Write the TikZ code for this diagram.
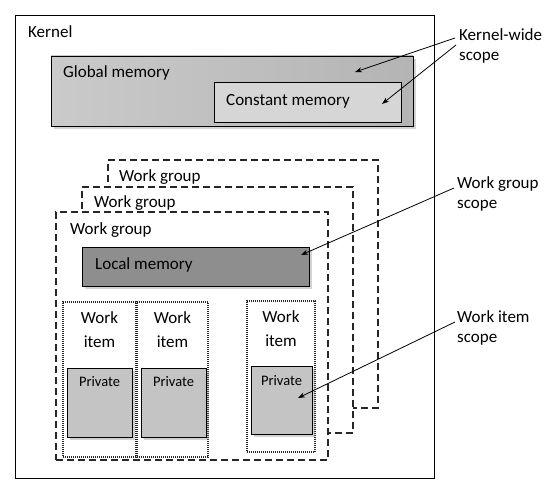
\documentclass[tikz,border=0pt]{standalone}
\usepackage{fontspec}
\setmainfont{Carlito}
\usetikzlibrary{arrows.meta,shadows}
\definecolor{globalc}{HTML}{CACACA}
\definecolor{globalr}{HTML}{B4B4B4}
\definecolor{constc}{HTML}{D6D6D6}
\definecolor{localc}{HTML}{8E8E8E}
\definecolor{privc}{HTML}{C4C4C4}
\tikzset{
  box/.style={draw=black, line width=0.9pt, anchor=north west, inner sep=0pt, outer sep=0pt},
  memshadow/.style={drop shadow={shadow xshift=3pt, shadow yshift=-3pt, opacity=0.35, fill=gray}},
  wgbox/.style={draw=black!85, line width=1.1pt, dash pattern=on 7pt off 4pt, fill=white, anchor=north west, inner sep=0pt, outer sep=0pt},
  wibox/.style={draw=black!85, line width=1.1pt, dash pattern=on 1pt off 1pt, anchor=north west, inner sep=0pt, outer sep=0pt},
  lbl/.style={font=\fontsize{17}{21}\selectfont, inner sep=0pt, anchor=west},
  scopelbl/.style={font=\fontsize{17}{20.5}\selectfont, inner sep=0pt, anchor=north west, align=left},
  itemlbl/.style={font=\fontsize{17}{24}\selectfont, inner sep=0pt, align=center},
  privlbl/.style={font=\fontsize{14.5}{16}\selectfont, inner sep=0pt},
  arr/.style={-{Stealth[length=7pt,width=5pt]}, line width=0.8pt, black}
}
\begin{document}
\begin{tikzpicture}[x=1pt,y=-1pt]
\useasboundingbox (0,0) rectangle (552,495);
% Kernel
\node[box, minimum width=419pt, minimum height=463pt] (kernel) at (15,15) {};
\node[lbl] (kernellbl) at (28,32) {Kernel};
% Global memory
\node[box, minimum width=362pt, minimum height=70pt, left color=globalc, right color=globalr, memshadow] (global) at (51,56) {};
\node[lbl] (globallbl) at (63,73) {Global memory};
\node[box, minimum width=187pt, minimum height=40pt, fill=constc] (const) at (214,82) {};
\node[lbl] (constlbl) at (226,101) {Constant memory};
% Work groups
\node[wgbox, minimum width=270pt, minimum height=248pt] (wg3) at (108,160) {};
\node[lbl] (wg3lbl) at (119,177) {Work group};
\node[wgbox, minimum width=271pt, minimum height=246pt] (wg2) at (82,187) {};
\node[lbl] (wg2lbl) at (94,203) {Work group};
\node[wgbox, minimum width=272pt, minimum height=248pt] (wg1) at (56,212) {};
\node[lbl] (wg1lbl) at (70,230) {Work group};
% Local memory
\node[box, minimum width=227pt, minimum height=39pt, fill=localc, memshadow] (local) at (82,247) {};
\node[lbl] (locallbl) at (95,265) {Local memory};
% Work items
\node[wibox, minimum width=73pt, minimum height=155pt] (wi1) at (63,302) {};
\node[wibox, minimum width=71pt, minimum height=155pt] (wi2) at (137,302) {};
\node[wibox, minimum width=68pt, minimum height=151pt] (wi3) at (247,301) {};
\node[itemlbl] (wi1lbl) at (99.5,330) {Work\\item};
\node[itemlbl] (wi2lbl) at (172.5,330) {Work\\item};
\node[itemlbl] (wi3lbl) at (281,329) {Work\\item};
% Private
\node[box, minimum width=65pt, minimum height=69pt, fill=privc, memshadow] (p1) at (67,368) {};
\node[box, minimum width=65pt, minimum height=69pt, fill=privc, memshadow] (p2) at (141,368) {};
\node[box, minimum width=61pt, minimum height=68pt, fill=privc, memshadow] (p3) at (251,366) {};
\node[privlbl] (p1lbl) at (99.5,382) {Private};
\node[privlbl] (p2lbl) at (173.5,382) {Private};
\node[privlbl] (p3lbl) at (281.5,381) {Private};
% Scope labels
\node[scopelbl] (kwscope) at (459,28) {Kernel-wide\\scope};
\node[scopelbl] (wgscope) at (457,176) {Work group\\scope};
\node[scopelbl] (wiscope) at (457,310) {Work item\\scope};
% Arrow end points
\coordinate (kwt1) at (455,38);
\coordinate (kwt2) at (456,45);
\coordinate (kwh1) at (355,72);
\coordinate (kwh2) at (382,104);
\coordinate (wgt) at (454,188);
\coordinate (wgh) at (301,255);
\coordinate (wit) at (455,322);
\coordinate (wih) at (298,398);
\draw[arr] (kwt1) -- (kwh1);
\draw[arr] (kwt2) -- (kwh2);
\draw[arr] (wgt) -- (wgh);
\draw[arr] (wit) -- (wih);
\end{tikzpicture}
\end{document}
